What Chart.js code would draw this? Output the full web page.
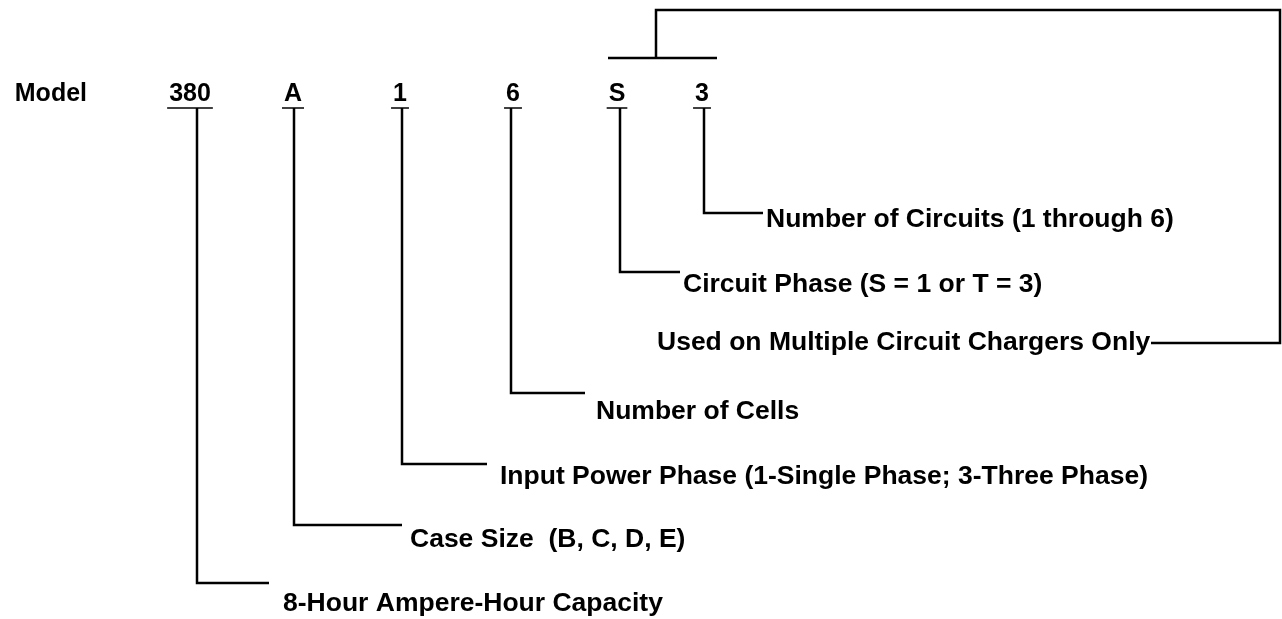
<!DOCTYPE html>
<html>
<head>
<meta charset="utf-8">
<script src="https://cdn.jsdelivr.net/npm/chart.js@4.4.1/dist/chart.umd.min.js"></script>
<style>
    html, body { margin: 0; padding: 0; background: #fff; }
    #diagram { display: block; }
</style>
</head>
<body>
<canvas id="diagram" width="1282" height="619"></canvas>
<script>
// model code characters and where their stems sit (chart units = page pixels)
const codeLetters = ["380", "A", "1", "6", "S", "3"];
const codeCenterX = [190, 293, 400, 513, 617, 702];
const codeBaseY = 101;
const stemX = [197, 294, 402, 511, 620, 704];
const stemTopY = 108;
const elbowY = [583, 525, 464, 393, 272, 213];
const elbowEndX = [269, 402, 487, 585, 680, 763];

// description for every character
const descLabels = [
    "8-Hour Ampere-Hour Capacity",
    "Case Size  (B, C, D, E)",
    "Input Power Phase (1-Single Phase; 3-Three Phase)",
    "Number of Cells",
    "Circuit Phase (S = 1 or T = 3)",
    "Number of Circuits (1 through 6)",
];
const descX = [283, 410, 500, 596, 683, 766];
const descBaseY = [611, 547, 484, 419, 292, 227];

// bracket over S and 3
const bracketBarX = [608, 717];
const bracketBarY = 58;
const bracketPathX = [656, 656, 1280, 1280, 1151];
const bracketPathY = [58, 10, 10, 343, 343];
const bracketLabel = "Used on Multiple Circuit Chargers Only";
const bracketLabelX = 657;
const bracketLabelY = 350;

const modelLabel = "Model";
const modelRightX = 87;

function makeLine(xs, ys) {
    let pts = [];
    for (let i = 0; i < xs.length; i++) {
        pts.push({ x: xs[i], y: ys[i] });
    }
    return {
        data: pts,
        showLine: true,
        borderColor: "#000",
        borderWidth: 2.5,
        pointRadius: 0,
        tension: 0,
        fill: false,
    };
}

function prepareDatasets() {
    var datasetsArray = [];
    for (let i = 0; i < codeLetters.length; i++) {
        datasetsArray.push(
            makeLine(
                [stemX[i], stemX[i], elbowEndX[i]],
                [stemTopY, elbowY[i], elbowY[i]]
            )
        );
    }
    datasetsArray.push(makeLine(bracketBarX, [bracketBarY, bracketBarY]));
    datasetsArray.push(makeLine(bracketPathX, bracketPathY));
    return datasetsArray;
}

const labelFont = 'bold 26.5px "Liberation Sans", Arial, sans-serif';
const codeFont = 'bold 25px "Liberation Sans", Arial, sans-serif';

const textPlugin = {
    id: "diagramText",
    afterDatasetsDraw(chart) {
        const ctx = chart.ctx;
        const sx = chart.scales.x;
        const sy = chart.scales.y;
        ctx.save();
        ctx.fillStyle = "#000";
        ctx.strokeStyle = "#000";
        ctx.textBaseline = "alphabetic";

        // header row
        ctx.font = codeFont;
        ctx.textAlign = "right";
        ctx.fillText(modelLabel, sx.getPixelForValue(modelRightX), sy.getPixelForValue(codeBaseY));
        ctx.textAlign = "center";
        ctx.lineWidth = 1.5;
        for (let i = 0; i < codeLetters.length; i++) {
            let cx = sx.getPixelForValue(codeCenterX[i]);
            ctx.fillText(codeLetters[i], cx, sy.getPixelForValue(codeBaseY));
            // underline under each character
            let w = ctx.measureText(codeLetters[i]).width;
            let uy = sy.getPixelForValue(stemTopY);
            ctx.beginPath();
            ctx.moveTo(cx - w / 2 - 2, uy);
            ctx.lineTo(cx + w / 2 + 2, uy);
            ctx.stroke();
        }

        // descriptions
        ctx.font = labelFont;
        ctx.textAlign = "left";
        for (let i = 0; i < descLabels.length; i++) {
            ctx.fillText(descLabels[i], sx.getPixelForValue(descX[i]), sy.getPixelForValue(descBaseY[i]));
        }
        ctx.fillText(bracketLabel, sx.getPixelForValue(bracketLabelX), sy.getPixelForValue(bracketLabelY));
        ctx.restore();
    },
};

new Chart(document.getElementById("diagram"), {
    type: "scatter",
    data: { datasets: prepareDatasets() },
    options: {
        responsive: false,
        animation: false,
        layout: { padding: 0 },
        scales: {
            x: { type: "linear", min: 0, max: 1282, display: false },
            y: { type: "linear", min: 0, max: 619, reverse: true, display: false },
        },
        plugins: {
            legend: { display: false },
            tooltip: { enabled: false },
            title: { display: false },
        },
    },
    plugins: [textPlugin],
});
</script>
</body>
</html>
